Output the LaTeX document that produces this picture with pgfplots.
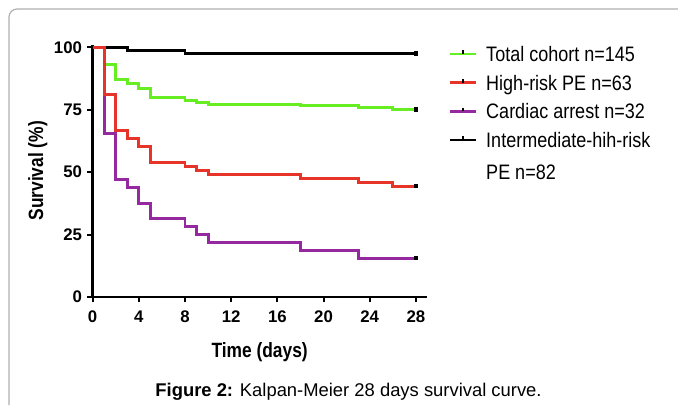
\documentclass[border=0pt]{standalone}
\usepackage{pgfplots}
\pgfplotsset{compat=1.18}
\usepackage{fontspec}
\setmainfont{Liberation Sans}
\newfontfamily\chartfont{Liberation Sans}[FakeStretch=0.84]
\newfontfamily\legfont{Liberation Sans}[FakeStretch=0.86]
\newcommand{\ls}{\rule[-6.5pt]{0pt}{22.5pt}}
\definecolor{kmgreen}{RGB}{102,238,34}
\definecolor{kmred}{RGB}{230,52,40}
\definecolor{kmpurple}{RGB}{150,40,160}
\definecolor{framegray}{RGB}{175,175,175}
\begin{document}
\begin{tikzpicture}
\useasboundingbox (0,0) rectangle (508.5pt,-303.75pt);
\draw[framegray, line width=0.9pt, rounded corners=6pt] (6.75pt,-303.75pt) -- (6.75pt,-6.75pt) -- (508.5pt,-6.75pt);
\begin{axis}[
  at={(69.5pt,-222.75pt)}, anchor=south west,
  scale only axis, width=250.5pt, height=189.2pt,
  xmin=0, xmax=28.93, ymin=0, ymax=101,
  axis x line*=bottom, axis y line*=left,
  axis line style={line width=2pt, black},
  xtick={0,4,...,28}, ytick={0,25,50,75,100},
  tick align=outside, major tick length=4pt,
  tick style={line width=1.6pt, black},
  /pgf/number format/assume math mode=true,
  ticklabel style={font=\bfseries\fontsize{12.6}{14}\selectfont},
  xticklabel style={yshift=-3pt},
  yticklabel style={xshift=-0.5pt},
  xlabel={Time (days)}, ylabel={Survival (\%)},
  label style={font=\chartfont\bfseries\fontsize{15.5}{17}\selectfont},
  xlabel style={at={(axis description cs:0.5,-0.218)}, anchor=center},
  ylabel style={at={(axis description cs:-0.164,0.5)}, anchor=center},
  clip=false,
  legend style={at={(axis description cs:1.0638,1.030)}, anchor=north west,
    draw=none, fill=none, inner sep=0pt, row sep=0pt,
    font=\legfont\fontsize{15.7}{24}\selectfont,
    cells={anchor=base west, inner sep=0pt}},
  legend image code/.code={\draw[#1, line width=2pt] (0pt,5.6pt) -- (20pt,5.6pt);
    \draw[black, line width=1.2pt] (10pt,5.6pt) -- (10pt,8.3pt);},
]
\addlegendimage{kmgreen}
\addlegendentry{\hspace{4.5pt}\ls Total cohort n=145}
\addlegendimage{kmred}
\addlegendentry{\hspace{4.5pt}\ls High-risk PE n=63}
\addlegendimage{kmpurple}
\addlegendentry{\hspace{4.5pt}\ls Cardiac arrest n=32}
\addlegendimage{black}
\addlegendentry{\hspace{4.5pt}\parbox[t]{5cm}{\ls Intermediate-hih-risk\\PE n=82\ls}}

% Intermediate-high-risk PE n=82
\addplot[forget plot, const plot, black, line width=2.2pt, mark=square*, mark size=1.2pt,
  mark options={black, solid, line width=0.4pt}, mark indices={4}]
  coordinates {(0,100)(3,98.8)(8,97.6)(28,97.6)};
% Total cohort n=145
\addplot[forget plot, const plot, kmgreen, line width=2.2pt, mark=square*, mark size=1.2pt,
  mark options={black, solid, line width=0.4pt}, mark indices={13}]
  coordinates {(0,100)(1,93.1)(2,86.9)(3,85.5)(4,83.4)(5,80.0)(8,78.6)(9,77.9)(10,77.2)(18,76.6)(23,75.9)(26,75.2)(28,75.2)};
% Cardiac arrest n=32
\addplot[forget plot, const plot, kmpurple, line width=2.2pt, mark=square*, mark size=1.2pt,
  mark options={black, solid, line width=0.4pt}, mark indices={12}]
  coordinates {(0,100)(1,65.6)(2,46.9)(3,43.75)(4,37.5)(5,31.25)(8,28.1)(9,25.0)(10,21.9)(18,18.75)(23,15.6)(28,15.6)};
% High-risk PE n=63
\addplot[forget plot, const plot, kmred, line width=2.2pt, mark=square*, mark size=1.2pt,
  mark options={black, solid, line width=0.4pt}, mark indices={13}]
  coordinates {(0,100)(1,81.0)(2,66.7)(3,63.5)(4,60.3)(5,54.0)(8,52.4)(9,50.8)(10,49.2)(18,47.6)(23,46.0)(26,44.4)(28,44.4)};
\end{axis}
\node[anchor=base, font=\fontsize{13.8}{16}\selectfont] at (261.4pt,-297.5pt)
  {\textbf{Figure 2:} Kalpan-Meier 28 days survival curve.};
\end{tikzpicture}
\end{document}
